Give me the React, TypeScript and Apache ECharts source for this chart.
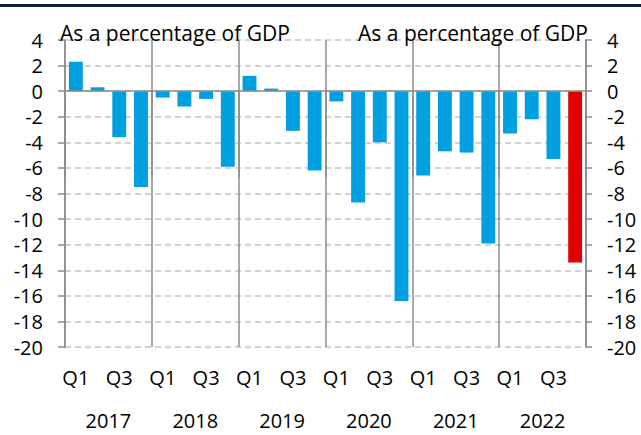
import React, { useEffect, useRef } from "react";
import * as echarts from "echarts";

const years = ["2017", "2018", "2019", "2020", "2021", "2022"];
const quarters = ["Q1", "Q2", "Q3", "Q4"];
const deficit = [
  2.3, 0.3, -3.6, -7.5,
  -0.5, -1.2, -0.6, -5.9,
  1.2, 0.2, -3.1, -6.2,
  -0.8, -8.7, -4.0, -16.4,
  -6.6, -4.7, -4.8, -11.9,
  -3.3, -2.2, -5.3, -13.4,
];
const yMin = -20;
const yMax = 4;
const yStep = 2;
const subtitle = "As a percentage of GDP";

const BLUE = "#009FE0";
const RED = "#E00000";
const AXIS = "#8c8c8c";
const FONT = "Open Sans";

export default function App() {
  const ref = useRef<HTMLDivElement>(null);
  useEffect(() => {
    if (!ref.current) return;
    const chart = echarts.init(ref.current, null, { renderer: "svg" });
    const cats: string[] = [];
    years.forEach((y) => quarters.forEach((q) => cats.push(y + " " + q)));
    const last = deficit.length - 1;
    chart.setOption({
      animation: false,
      textStyle: { fontFamily: FONT, color: "#000" },
      grid: { left: 65, right: 55, top: 40, bottom: 88 },
      graphic: [
        { type: "rect", shape: { x: 0, y: 4, width: 641, height: 3 }, style: { fill: "#0e1f3d" }, silent: true },
        { type: "text", x: 60, y: 22, style: { text: subtitle, fontFamily: FONT, fontSize: 21, fill: "#000", textAlign: "left" }, z: 10 },
        { type: "text", x: 588, y: 22, style: { text: subtitle, fontFamily: FONT, fontSize: 21, fill: "#000", textAlign: "right" }, z: 10 },
      ],
      xAxis: [
        {
          type: "category",
          data: cats,
          position: "bottom",
          axisLine: { show: false },
          axisTick: { show: false },
          axisLabel: {
            interval: 0,
            margin: 20,
            fontSize: 20,
            color: "#000",
            fontFamily: FONT,
            formatter: (_v: string, i: number) => (i % 4 === 0 ? "Q1" : i % 4 === 2 ? "Q3" : ""),
          },
        },
        {
          type: "category",
          data: years,
          position: "bottom",
          axisLine: { show: false },
          axisTick: { show: true, length: 86, lineStyle: { color: AXIS, width: 1.5 } },
          splitLine: { show: true, lineStyle: { color: AXIS, width: 1.5 } },
          axisLabel: { interval: 0, margin: 63, fontSize: 20, color: "#000", fontFamily: FONT },
        },
      ],
      yAxis: [
        {
          type: "value",
          min: yMin,
          max: yMax,
          interval: yStep,
          position: "left",
          axisLine: { show: true, lineStyle: { color: AXIS, width: 1.5 } },
          axisTick: { show: true, length: 7, lineStyle: { color: AXIS, width: 1.5 } },
          splitLine: { show: true, lineStyle: { color: "#c4c4c4", width: 1.5, type: [6, 4] } },
          axisLabel: { margin: 22, fontSize: 20, color: "#000", fontFamily: FONT },
        },
        {
          type: "value",
          min: yMin,
          max: yMax,
          interval: yStep,
          position: "right",
          axisLine: { show: true, lineStyle: { color: AXIS, width: 1.5 } },
          axisTick: { show: true, length: 6, lineStyle: { color: AXIS, width: 1.5 } },
          splitLine: { show: false },
          axisLabel: { margin: 21, fontSize: 20, color: "#000", fontFamily: FONT },
        },
      ],
      series: [
        {
          type: "bar",
          xAxisIndex: 0,
          yAxisIndex: 0,
          barWidth: "64%",
          data: deficit.map((v, i) => ({ value: v, itemStyle: { color: i === last ? RED : BLUE } })),
          markLine: {
            silent: true,
            symbol: "none",
            label: { show: false },
            lineStyle: { color: AXIS, width: 1.5, type: "solid" },
            data: [{ yAxis: 0 }],
          },
        },
      ],
    });
    return () => chart.dispose();
  }, []);
  return (
    <div
      ref={ref}
      style={{ position: "fixed", left: 0, top: 0, width: 641, height: 435, background: "#fff" }}
    />
  );
}
